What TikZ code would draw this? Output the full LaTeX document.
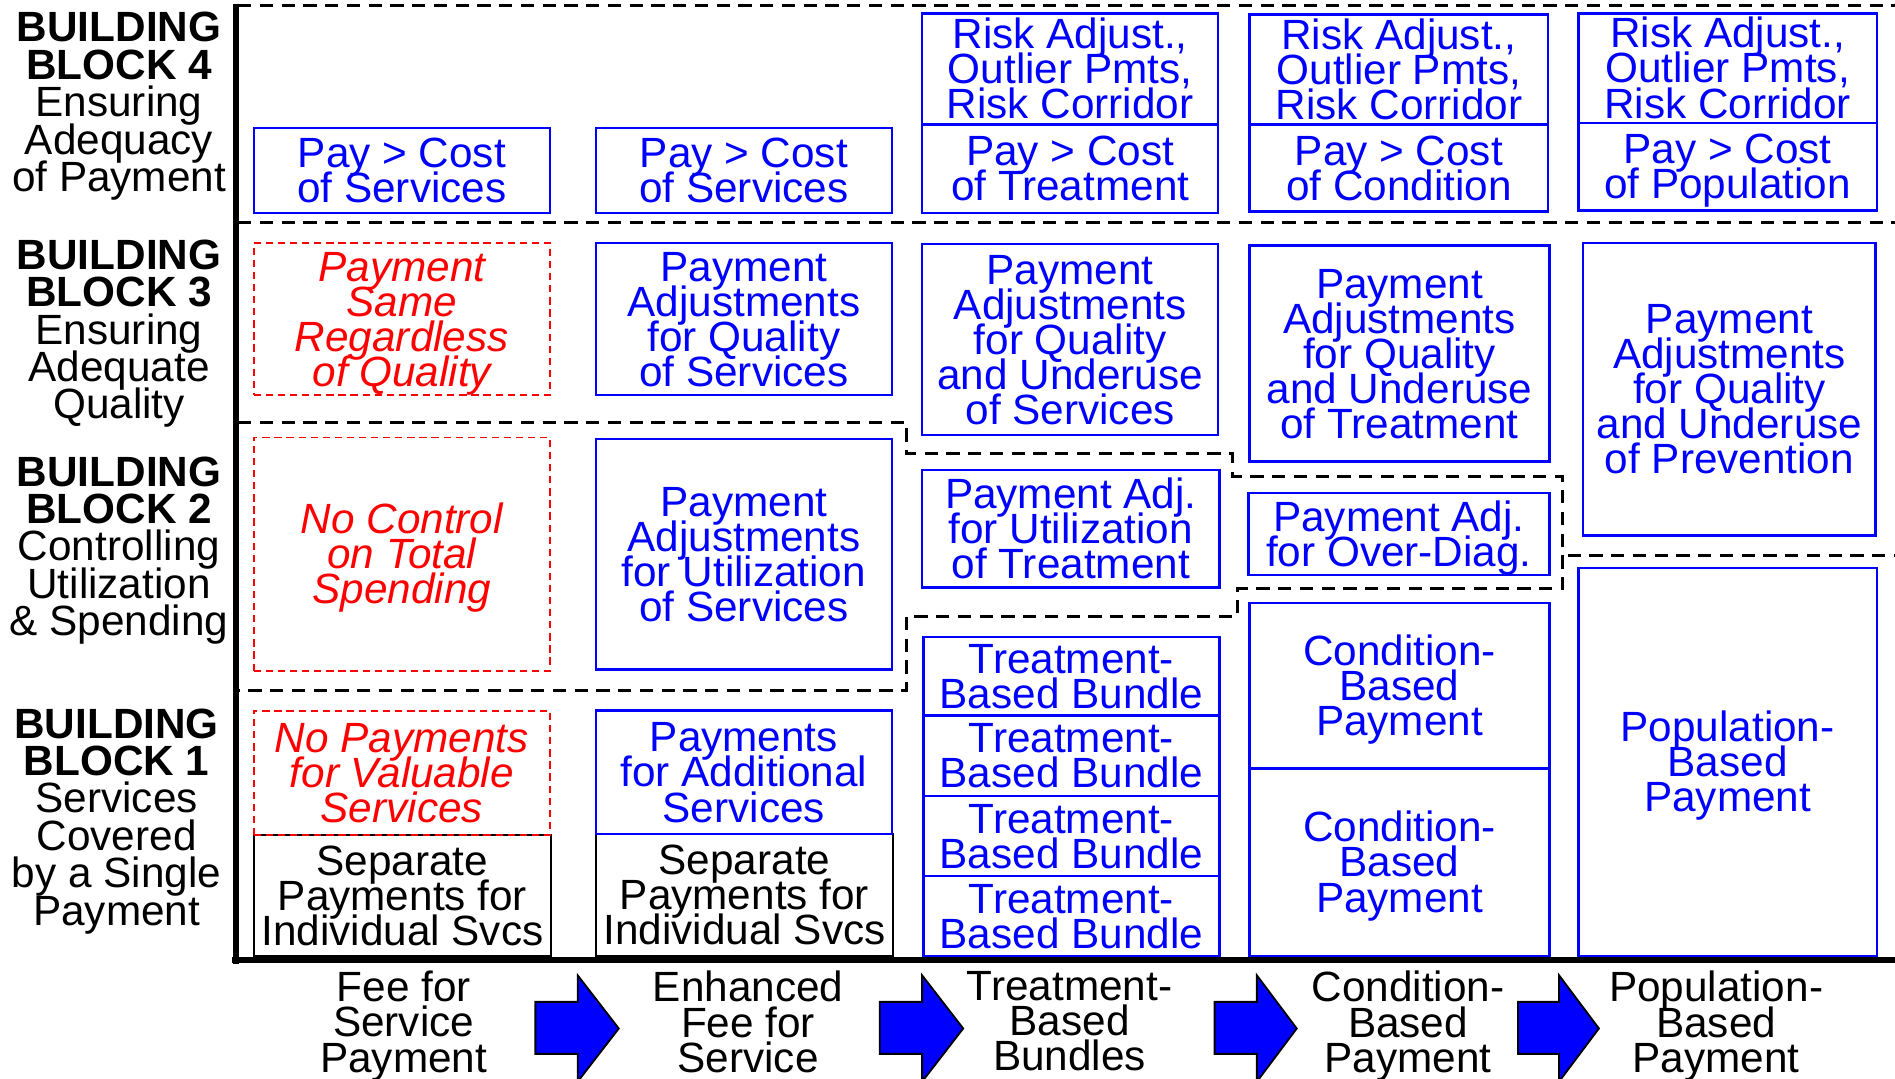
\documentclass[tikz,border=0pt]{standalone}
\usepackage{fontspec}
\setmainfont{Liberation Sans}
\newcommand\ibox[7]{\node[#2, text depth=4.3pt, minimum width={(#5-#3)*1pt}, minimum height={(#6-#4)*1pt}] (#1) at ({(#3+#5)/2},{(#4+#6)/2}) {\rule{0pt}{28.6pt}#7};}
\newcommand\tightls{\lineskiplimit=-1000pt\relax\lineskip=0pt\relax}
\begin{document}
\begin{tikzpicture}[x=1pt,y=-1pt,
  every node/.style={font={\fontsize{35}{29}\selectfont\tightls}, align=center, inner sep=0pt},
  bbox/.style={draw=blue, line width=2pt, text=blue, rectangle},
  rbox/.style={draw=red, dash pattern=on 6pt off 4pt, line width=1.5pt, text=red, rectangle, font={\fontsize{35}{29}\selectfont\tightls\itshape}},
  kbox/.style={draw=black, line width=2pt, text=black, rectangle},
  sepline/.style={draw=black, line width=2.5pt, dash pattern=on 11pt off 7pt},
  axisline/.style={draw=black, line width=5pt},
  lbl/.style={font={\fontsize{35}{31}\selectfont\tightls}, anchor=north},
  btm/.style={font={\fontsize{35}{29}\selectfont\tightls}, anchor=north},
  barrow/.style={fill=blue, draw=black, line width=1.5pt, line join=miter}
]
\useasboundingbox (0,0) rectangle (1568,892);

% ---------- Building block 4 ----------
\ibox{b4c1}{bbox}{210}{106}{455}{176}{Pay > Cost\\of Services}
\ibox{b4c2}{bbox}{493}{106}{738}{176}{Pay > Cost\\of Services}
\ibox{r3}{bbox}{763}{11}{1008}{103}{Risk Adjust.,\\Outlier Pmts,\\Risk Corridor}
\ibox{b4c3}{bbox}{763}{103}{1008}{176}{Pay > Cost\\of Treatment}
\ibox{r4}{bbox}{1034}{12}{1281}{103}{Risk Adjust.,\\Outlier Pmts,\\Risk Corridor}
\ibox{b4c4}{bbox}{1034}{103}{1281}{175}{Pay > Cost\\of Condition}
\ibox{r5}{bbox}{1306}{11}{1553}{102}{Risk Adjust.,\\Outlier Pmts,\\Risk Corridor}
\ibox{b4c5}{bbox}{1306}{102}{1553}{174}{Pay > Cost\\of Population}

% ---------- Building block 3 ----------
\ibox{b3c1}{rbox}{210}{201}{455}{327}{Payment\\Same\\Regardless\\of Quality}
\ibox{b3c2}{bbox}{493}{201}{738}{327}{Payment\\Adjustments\\for Quality\\of Services}
\ibox{b3c3}{bbox}{763}{202}{1008}{360}{Payment\\Adjustments\\for Quality\\and Underuse\\of Services}
\ibox{b3c4}{bbox}{1034}{203}{1282}{382}{Payment\\Adjustments\\for Quality\\and Underuse\\of Treatment}
\ibox{b3c5}{bbox}{1310}{201}{1552}{443}{Payment\\Adjustments\\for Quality\\and Underuse\\of Prevention}

% ---------- Building block 2 ----------
\ibox{b2c1}{rbox}{210}{362}{455}{555}{No Control\\on Total\\Spending}
\ibox{b2c2}{bbox}{493}{363}{738}{554}{Payment\\Adjustments\\for Utilization\\of Services}
\ibox{b2c3}{bbox}{763}{389}{1009}{486}{Payment Adj.\\for Utilization\\of Treatment}
\ibox{b2c4}{bbox}{1033}{408}{1282}{476}{Payment Adj.\\for Over-Diag.}

% ---------- Building block 1 ----------
\ibox{s1}{kbox}{210}{691}{456}{791}{Separate\\Payments for\\Individual Svcs}
\ibox{b1c1}{rbox}{210}{588}{455}{691}{No Payments\\for Valuable\\Services}
\ibox{s2}{kbox}{493}{690}{739}{791}{Separate\\Payments for\\Individual Svcs}
\ibox{b1c2}{bbox}{493}{588}{738}{690}{Payments\\for Additional\\Services}
\ibox{t1}{bbox}{764}{527}{1009}{592}{Treatment-\\Based Bundle}
\ibox{t2}{bbox}{764}{592}{1009}{658.5}{Treatment-\\Based Bundle}
\ibox{t3}{bbox}{764}{658.5}{1009}{725}{Treatment-\\Based Bundle}
\ibox{t4}{bbox}{764}{725}{1009}{791}{Treatment-\\Based Bundle}
\ibox{c1}{bbox}{1034}{499}{1282}{636}{Condition-\\Based\\Payment}
\ibox{c2}{bbox}{1034}{636}{1282}{791}{Condition-\\Based\\Payment}
\ibox{p1}{bbox}{1306}{470}{1553}{791}{Population-\\Based\\Payment}

% ---------- dashed block boundaries ----------
\draw[sepline] (197,4.5) -- (1568,4.5);
\draw[sepline] (197,184) -- (1568,184);
\draw[sepline] (197,349.5) -- (750,349.5) -- (750,375.5) -- (1020,375.5) -- (1020,394) -- (1293,394) -- (1293,487) -- (1024,487) -- (1024,510) -- (750,510) -- (750,571) -- (197,571);
\draw[sepline] (1297,460) -- (1568,460);

% ---------- axes ----------
\draw[axisline] (195,3) -- (195,798);
\draw[axisline] (192,794.5) -- (1568,794.5);

% ---------- left labels ----------
\node[lbl] (l4) at (98.5,10) {\textbf{BUILDING}\\\textbf{BLOCK 4}\\Ensuring\\Adequacy\\of Payment};
\node[lbl] (l3) at (98.5,198) {\textbf{BUILDING}\\\textbf{BLOCK 3}\\Ensuring\\Adequate\\Quality};
\node[lbl] (l2) at (98.5,377.5) {\textbf{BUILDING}\\\textbf{BLOCK 2}\\Controlling\\Utilization\\\& Spending};
\node[lbl] (l1) at (96.5,586) {\textbf{BUILDING}\\\textbf{BLOCK 1}\\Services\\Covered\\by a Single\\Payment};

% ---------- bottom labels ----------
\node[btm] (m1) at (334,803.5) {Fee for\\Service\\Payment};
\node[btm] (m2) at (619,803.5) {Enhanced\\Fee for\\Service};
\node[btm] (m3) at (885,803.5) {Treatment-\\Based\\Bundles};
\node[btm] (m4) at (1165,803.5) {Condition-\\Based\\Payment};
\node[btm] (m5) at (1420,803.5) {Population-\\Based\\Payment};

% ---------- arrows ----------
\foreach \a/\b/\c in {443/478/512, 728/763/797, 1005/1040/1073, 1256/1290/1323}
  \draw[barrow] (\a,829) -- (\b,829) -- (\b,807) -- (\c,851) -- (\b,895) -- (\b,872) -- (\a,872) -- cycle;
\end{tikzpicture}
\end{document}
